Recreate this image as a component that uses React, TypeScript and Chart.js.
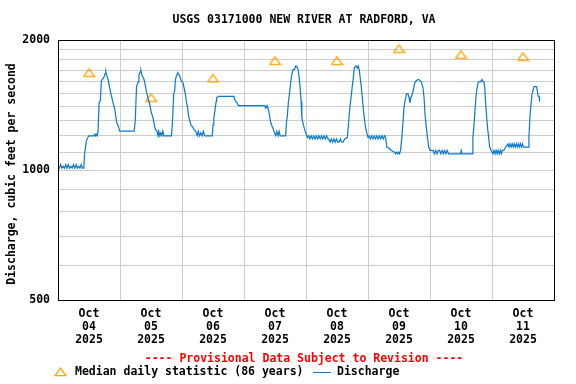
import { useEffect, useRef } from 'react';
import { Chart, registerables } from 'chart.js';

Chart.register(...registerables);

const TITLE = 'USGS 03171000 NEW RIVER AT RADFORD, VA';
const Y_TITLE = 'Discharge, cubic feet per second';
const NOTICE = '---- Provisional Data Subject to Revision ----';
const LEGEND_MEDIAN = 'Median daily statistic (86 years)';
const LEGEND_DISCHARGE = 'Discharge';

const dayLabels = ['04', '05', '06', '07', '08', '09', '10', '11'];
const monthLabel = 'Oct';
const yearLabel = '2025';
const xTickHours = [0, 12, 24, 36, 48, 60, 72, 84, 96, 108, 120, 132, 144, 156, 168, 180, 192];
const yTickValues = [500, 600, 700, 800, 900, 1000, 1100, 1200, 1300, 1400, 1500, 1600, 1700, 1800, 1900, 2000];
const yLabelledValues = [500, 1000, 2000];

const medianHours = [12, 36, 60, 84, 108, 132, 156, 180];
const medianValues = [1680, 1470, 1630, 1790, 1790, 1910, 1850, 1830];

// [hours since Oct 04 00:00, discharge cfs]
const discharge: [number, number][] = [
  [0, 1020], [0.5, 1010], [1, 1030], [1.5, 1010], [2, 1020], [2.5, 1010], [3, 1030], [3.5, 1010],
  [4, 1030], [4.5, 1010], [5, 1020], [5.5, 1010], [6, 1030], [6.5, 1010], [7, 1030], [7.5, 1010],
  [8, 1020], [8.5, 1010], [9, 1030], [9.5, 1010], [10, 1010],
  [10.3, 1090], [11, 1170], [11.9, 1200], [13.9, 1200], [14.2, 1210], [14.5, 1200], [14.8, 1210],
  [15.2, 1200], [15.5, 1230], [15.9, 1430], [16.4, 1450], [16.8, 1610], [17.8, 1640], [18.2, 1670],
  [18.5, 1690], [18.8, 1660], [19.4, 1620], [20.0, 1550], [20.6, 1490], [21.3, 1430], [21.9, 1390],
  [22.3, 1340], [22.7, 1290], [23.2, 1270], [23.9, 1230], [29.5, 1230],
  [29.9, 1300], [30.4, 1560], [31.0, 1600], [31.3, 1660], [31.9, 1690], [32.1, 1700], [32.5, 1660],
  [32.9, 1640], [33.3, 1620], [33.8, 1570], [34.3, 1510], [34.8, 1470], [35.5, 1420], [36.1, 1360],
  [36.8, 1320], [37.2, 1280], [37.7, 1240], [38.3, 1230],
  [38.7, 1200], [39.0, 1230], [39.4, 1200], [39.8, 1220], [40.2, 1200], [40.6, 1230], [41.0, 1200],
  [43.9, 1200], [44.2, 1260], [44.8, 1500], [45.2, 1530], [45.4, 1610], [45.8, 1650], [46.4, 1680],
  [47.1, 1650], [47.7, 1610], [48.4, 1590], [48.8, 1550], [49.3, 1500], [49.7, 1440], [50.1, 1400],
  [50.5, 1340], [51.0, 1300], [51.5, 1270], [52.0, 1260], [52.7, 1240], [53.3, 1230],
  [53.9, 1200], [54.3, 1230], [54.8, 1200], [55.3, 1220], [55.8, 1200], [56.3, 1230], [56.8, 1200],
  [59.7, 1200], [60.0, 1270], [60.3, 1320], [60.8, 1380], [61.2, 1440], [61.4, 1470], [62.1, 1480],
  [68.1, 1480], [68.5, 1450], [69.3, 1430], [69.8, 1410], [80.0, 1410], [80.4, 1390], [80.9, 1410],
  [81.3, 1390], [81.7, 1360], [82.2, 1300], [82.7, 1270], [83.2, 1250], [83.6, 1230],
  [84.3, 1200], [84.7, 1230], [85.2, 1200], [85.6, 1230], [86.0, 1200], [88.1, 1200],
  [88.4, 1280], [88.8, 1340], [89.2, 1440], [89.7, 1520], [90.1, 1600], [90.4, 1650], [91.0, 1710],
  [91.6, 1710], [92.0, 1740], [92.4, 1740], [92.9, 1710], [93.3, 1650], [93.7, 1560], [94.1, 1440],
  [94.4, 1320], [95.0, 1270], [95.5, 1240], [96.1, 1210], [96.6, 1190],
  [97.0, 1200], [97.5, 1180], [98.0, 1200], [98.5, 1180], [99.0, 1200], [99.5, 1180], [100.0, 1200],
  [100.5, 1180], [101.0, 1200], [101.5, 1180], [102.0, 1200], [102.5, 1180], [103.0, 1200],
  [103.5, 1180], [104.0, 1200], [104.5, 1180],
  [104.8, 1180], [105.3, 1160], [105.8, 1180], [106.3, 1160], [106.8, 1180], [107.3, 1160],
  [107.8, 1180], [108.3, 1160], [108.8, 1160], [109.3, 1180], [109.8, 1160], [110.3, 1160],
  [111.0, 1180], [112.0, 1190],
  [112.5, 1290], [113.0, 1400], [113.5, 1480], [113.9, 1560], [114.3, 1630], [114.7, 1720],
  [115.1, 1740], [115.5, 1740], [115.9, 1720], [116.2, 1740], [116.6, 1710], [117.0, 1630],
  [117.4, 1560], [117.8, 1470], [118.2, 1380], [118.7, 1300], [119.1, 1250], [119.5, 1220],
  [120.0, 1190],
  [120.4, 1200], [120.9, 1180], [121.4, 1200], [121.9, 1180], [122.4, 1200], [122.9, 1180],
  [123.4, 1200], [123.9, 1180], [124.4, 1200], [124.9, 1180], [125.4, 1200], [125.9, 1180],
  [126.4, 1200], [126.8, 1190], [127.3, 1130], [128.4, 1120], [129.0, 1110], [130.3, 1100],
  [130.6, 1090], [131.0, 1100], [131.4, 1090], [131.8, 1100], [132.2, 1090], [132.6, 1110],
  [133.1, 1190], [133.5, 1280], [133.9, 1390], [134.4, 1450], [134.9, 1500], [135.5, 1500],
  [135.9, 1470], [136.2, 1430], [136.6, 1470], [137.2, 1500], [137.7, 1550], [138.1, 1590],
  [138.7, 1610], [139.3, 1620], [139.7, 1620], [140.6, 1600], [141.3, 1550], [141.7, 1470],
  [142.1, 1340], [142.6, 1250], [143.1, 1180], [143.5, 1130], [144.0, 1110],
  [145.2, 1110], [145.7, 1090], [146.2, 1110], [146.7, 1090], [147.2, 1110], [147.7, 1110],
  [148.2, 1090], [148.7, 1110], [149.2, 1090], [149.7, 1110], [150.2, 1090], [150.7, 1110],
  [151.2, 1090], [152.3, 1090], [155.8, 1090], [156.1, 1110], [156.4, 1090], [160.4, 1090],
  [160.6, 1190], [161.0, 1260], [161.5, 1400], [161.9, 1500], [162.3, 1560], [162.7, 1600],
  [163.5, 1600], [164.1, 1620], [164.5, 1600], [164.9, 1600], [165.2, 1550], [165.5, 1440],
  [165.9, 1330], [166.3, 1250], [166.7, 1190], [167.1, 1130], [167.7, 1110],
  [168.4, 1090], [168.8, 1110], [169.2, 1090], [169.6, 1110], [170.0, 1090], [170.4, 1110],
  [170.8, 1090], [171.2, 1110], [171.6, 1090], [172.0, 1110], [172.6, 1110], [173.3, 1130],
  [174.2, 1150], [174.6, 1130], [175.0, 1150], [175.4, 1130], [175.8, 1150], [176.2, 1130],
  [176.6, 1150], [177.0, 1130], [177.4, 1150], [177.8, 1130], [178.2, 1150], [178.6, 1130],
  [179.0, 1150], [179.4, 1130], [179.8, 1150], [180.2, 1130], [180.6, 1130], [182.2, 1130],
  [182.3, 1190], [182.7, 1330], [183.1, 1420], [183.5, 1500], [183.9, 1530], [184.3, 1560],
  [185.2, 1560], [185.5, 1530], [185.9, 1480], [186.3, 1480], [186.4, 1440],
];

const FONT_FAMILY = '"DejaVu Sans Mono", monospace';
const FONT_SIZE = 11.5;
const BLUE = '#0a7acc';
const ORANGE = '#ffa500';
const GRID = '#cccccc';

function makeTriangle(): HTMLCanvasElement {
  const c = document.createElement('canvas');
  c.width = 13;
  c.height = 10;
  const g = c.getContext('2d')!;
  g.strokeStyle = ORANGE;
  g.lineWidth = 1.4;
  g.lineJoin = 'miter';
  g.beginPath();
  g.moveTo(6.5, 1.2);
  g.lineTo(11.8, 8.6);
  g.lineTo(1.2, 8.6);
  g.closePath();
  g.stroke();
  return c;
}

export default function App() {
  const ref = useRef<HTMLCanvasElement | null>(null);

  useEffect(() => {
    if (!ref.current) return;
    const tri = makeTriangle();
    const font = `bold ${FONT_SIZE}px ${FONT_FAMILY}`;

    const decor = {
      id: 'decor',
      afterDraw(chart: any) {
        const { ctx, chartArea: a } = chart;
        ctx.save();
        ctx.strokeStyle = '#000';
        ctx.lineWidth = 1;
        ctx.strokeRect(
          Math.round(a.left) + 0.5,
          Math.round(a.top) + 0.5,
          Math.round(a.right) - Math.round(a.left),
          Math.round(a.bottom) - Math.round(a.top)
        );
        ctx.font = font;
        ctx.fillStyle = '#000';
        ctx.textBaseline = 'middle';
        ctx.textAlign = 'center';
        ctx.fillText(TITLE, 304, 20.5);
        ctx.save();
        ctx.translate(12, 174);
        ctx.rotate(-Math.PI / 2);
        ctx.fillText(Y_TITLE, 0, 0);
        ctx.restore();
        ctx.fillStyle = '#ff0000';
        ctx.fillText(NOTICE, 304, 359);
        ctx.drawImage(tri, 60.5 - 6.5, 372 - 5);
        ctx.fillStyle = '#000';
        ctx.textAlign = 'left';
        ctx.fillText(LEGEND_MEDIAN, 75, 372.5);
        ctx.strokeStyle = BLUE;
        ctx.beginPath();
        ctx.moveTo(313, 372.5);
        ctx.lineTo(331, 372.5);
        ctx.stroke();
        ctx.fillText(LEGEND_DISCHARGE, 337, 372.5);
        ctx.restore();
      },
    };

    const tickFont = { family: FONT_FAMILY, size: FONT_SIZE, weight: 'bold' as const, lineHeight: 13 / FONT_SIZE };

    const chart = new Chart(ref.current, {
      type: 'line',
      data: {
        datasets: [
          {
            label: LEGEND_DISCHARGE,
            data: discharge.map(([x, y]) => ({ x, y })),
            borderColor: BLUE,
            borderWidth: 1.2,
            pointRadius: 0,
            tension: 0,
            fill: false,
          },
          {
            label: LEGEND_MEDIAN,
            data: medianHours.map((x, i) => ({ x, y: medianValues[i] })),
            showLine: false,
            pointStyle: tri as any,
            pointRadius: 5,
            borderColor: ORANGE,
          },
        ],
      },
      options: {
        animation: false,
        responsive: false,
        devicePixelRatio: 1,
        layout: { padding: { top: 40, right: 22, left: 0, bottom: 0 } },
        plugins: { legend: { display: false }, tooltip: { enabled: false }, title: { display: false } },
        scales: {
          x: {
            type: 'linear',
            min: 0,
            max: 192,
            afterBuildTicks: (s: any) => {
              s.ticks = xTickHours.map((v) => ({ value: v }));
            },
            afterFit: (s: any) => {
              s.height = 84;
            },
            border: { display: false },
            grid: {
              drawTicks: false,
              lineWidth: 1,
              color: (c: any) => (c.tick && c.tick.value % 24 === 0 ? GRID : 'rgba(0,0,0,0)'),
            },
            ticks: {
              autoSkip: false,
              maxRotation: 0,
              minRotation: 0,
              padding: 8,
              color: '#000',
              font: tickFont,
              callback: (v: any) =>
                v % 24 === 12 ? [monthLabel, dayLabels[(v - 12) / 24], yearLabel] : '',
            },
          },
          y: {
            type: 'logarithmic',
            min: 500,
            max: 2000,
            afterBuildTicks: (s: any) => {
              s.ticks = yTickValues.map((v) => ({ value: v }));
            },
            afterFit: (s: any) => {
              s.width = 58;
            },
            border: { display: false },
            grid: { drawTicks: false, lineWidth: 1, color: GRID },
            ticks: {
              autoSkip: false,
              padding: 8,
              color: '#000',
              font: tickFont,
              callback: (v: any) => (yLabelledValues.includes(Number(v)) ? String(v) : ''),
            },
          },
        },
      },
      plugins: [decor],
    });
    return () => chart.destroy();
  }, []);

  return (
    <div style={{ position: 'absolute', left: 0, top: 0, width: 576, height: 384, background: '#fff' }}>
      <canvas ref={ref} width={576} height={384} style={{ display: 'block' }} />
    </div>
  );
}
